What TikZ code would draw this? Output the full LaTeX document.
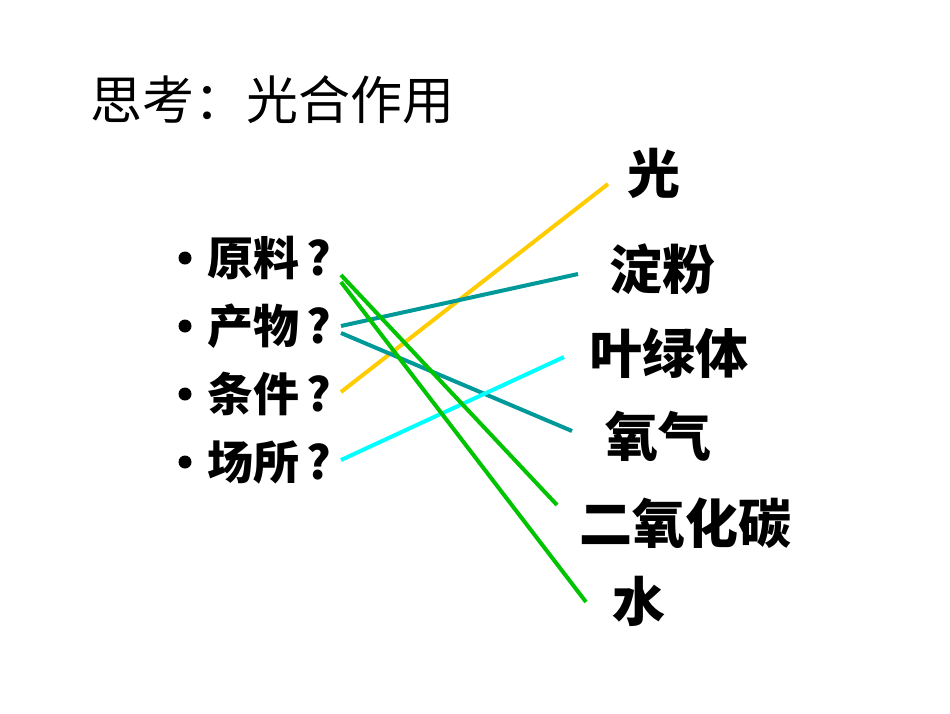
\documentclass[tikz,border=0pt]{standalone}
\usepackage{fontspec}
\setmainfont{Noto Sans CJK SC}
\definecolor{lineyellow}{RGB}{255,204,0}
\definecolor{lineteal}{RGB}{0,153,153}
\definecolor{linecyan}{RGB}{0,255,255}
\definecolor{linegreen}{RGB}{0,196,0}
\tikzset{
  item/.style={anchor=west,inner sep=0pt,font=\fontsize{46}{50}\selectfont\bfseries},
  answer/.style={anchor=west,inner sep=0pt,font=\fontsize{53}{56}\selectfont\bfseries},
  link/.style={line width=4pt}
}

\begin{document}
\begin{tikzpicture}[x=1pt,y=-1pt]
	\useasboundingbox[fill=white] (0,0) rectangle (950,713);
	\node[anchor=west,inner sep=0pt,font=\fontsize{52}{56}\selectfont] (title) at (90,100) {思考：光合作用};
	% questions
	\foreach \name / \y / \txt in {raw/258/原料,prod/326/产物,cond/394/条件,place/462/场所} {
		\fill (185,\y) circle (6.5);
		\node[item] (\name) at (207,\y) {\txt\,?};
	}
	% answers
	\node[answer] (light) at (627,173) {光};
	\node[answer] (starch) at (609,269) {淀粉};
	\node[answer] (chloro) at (589,353) {叶绿体};
	\node[answer] (oxygen) at (605,436) {氧气};
	\node[answer] (co2) at (579,523) {二氧化碳};
	\node[answer] (water) at (612,601) {水};
	% line ends
	\coordinate (rawA) at (341,275);
	\coordinate (rawB) at (341,282);
	\coordinate (prodA) at (341,326);
	\coordinate (prodB) at (341,333);
	\coordinate (condA) at (341,392);
	\coordinate (placeA) at (341,460);
	\coordinate (lightE) at (608,184);
	\coordinate (starchE) at (578,274);
	\coordinate (chloroE) at (564,357);
	\coordinate (oxygenE) at (572,431);
	\coordinate (co2E) at (557,505);
	\coordinate (waterE) at (586,602);
	\draw[link,lineyellow] (condA) -- (lightE);
	\draw[link,lineteal] (prodA) -- (starchE);
	\draw[link,lineteal] (prodB) -- (oxygenE);
	\draw[link,linecyan] (placeA) -- (chloroE);
	\draw[link,linegreen] (rawA) -- (co2E);
	\draw[link,linegreen] (rawB) -- (waterE);
\end{tikzpicture}
\end{document}
